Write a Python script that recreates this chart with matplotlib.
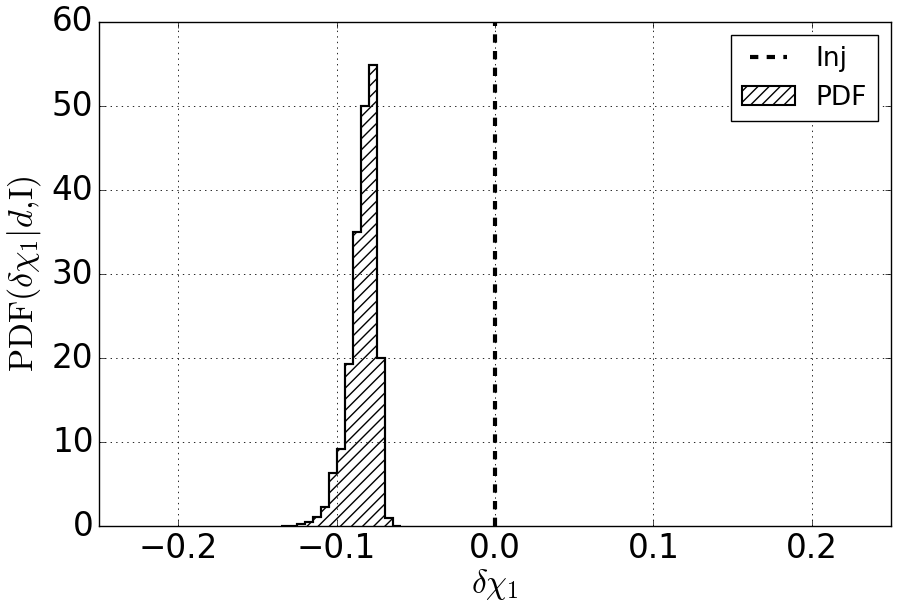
import numpy as np
import matplotlib
matplotlib.use("Agg")
import matplotlib.pyplot as plt

plt.style.use('classic')
plt.rcParams['mathtext.fontset'] = 'cm'

# histogram (density) of delta chi_1
bin_width = 0.00506
first_edge = -0.1352
pdf_values = [0.02, 0.05, 0.25, 0.5, 1.1, 2.3, 6.3, 9.2, 19.3, 35.0, 50.0, 54.9, 20.0, 1.0, 0.05]
edges = first_edge + bin_width * np.arange(len(pdf_values) + 1)
injection = 0.0

fig = plt.figure(figsize=(9, 6.11), dpi=100)
fig.patch.set_facecolor('white')
ax = fig.add_axes([0.11, 0.139, 0.88, 0.825])

ax.stairs(pdf_values, edges, fill=True, facecolor='white', edgecolor='black',
          hatch='///', linewidth=1.5, label='PDF')
ax.stairs(pdf_values, edges, fill=False, edgecolor='black', linewidth=1.5)
ax.axvline(injection, color='black', linestyle='--', linewidth=3, label='Inj')

ax.set_xlim(-0.25, 0.25)
ax.set_ylim(0, 60)
ax.set_xticks([-0.2, -0.1, 0.0, 0.1, 0.2])
ax.set_yticks([0, 10, 20, 30, 40, 50, 60])
ax.tick_params(labelsize=23.5)
ax.grid(True, color='black', linestyle=':', linewidth=0.6)
ax.set_xlabel(r'$\delta\chi_1$', fontsize=24, labelpad=2)
ax.set_ylabel(r'$\mathrm{PDF}(\delta\chi_1|d,\!\mathrm{I})$', fontsize=24.5, labelpad=6)

handles, labels = ax.get_legend_handles_labels()
order = [labels.index('Inj'), labels.index('PDF')]
ax.legend([handles[i] for i in order], [labels[i] for i in order],
          loc='upper right', fontsize=19, fancybox=False, handlelength=2.0)

fig.savefig('out.png', dpi=100, facecolor='white')
